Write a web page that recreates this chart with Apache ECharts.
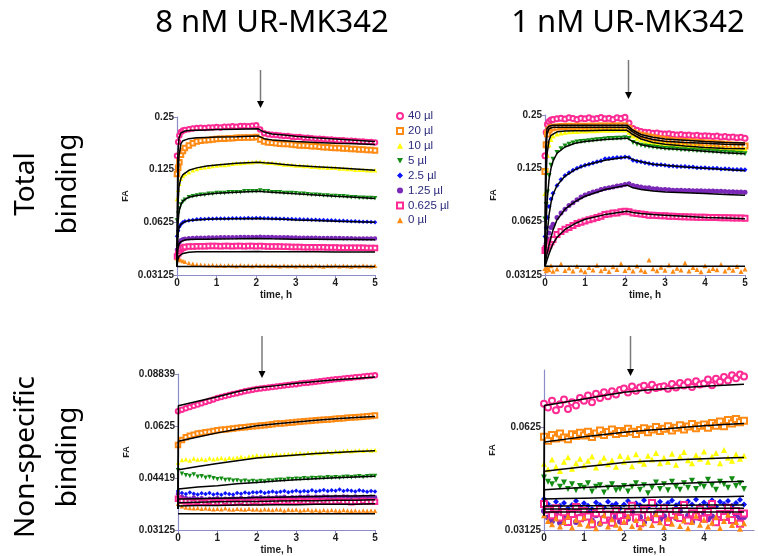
<!DOCTYPE html>
<html><head><meta charset="utf-8">
<script src="https://cdn.jsdelivr.net/npm/echarts/dist/echarts.min.js"></script>
<style>html,body{margin:0;padding:0;background:#fff}#c{width:758px;height:556px}</style>
</head><body><div id="c"></div><script>
// ---------- data ----------
const doses = ['40 µl','20 µl','10 µl','5 µl','2.5 µl','1.25 µl','0.625 µl','0 µl'];
const titles = ['8 nM UR-MK342','1 nM UR-MK342'];
const rowLabels = ['Total\nbinding','Non-specific\nbinding'];
const xTicks = [0,1,2,3,4,5];
const xTicksBR = [0,1,2,3,4];
const yTicksTop = [0.03125,0.0625,0.125,0.25];
const yTicksBL = [0.03125,0.04419,0.0625,0.08839];
const yTicksBR = [0.03125,0.0625];

const tTop = [0,0.03,0.06,0.1,0.15,0.2,
 0.3,0.4,0.5,0.6,0.7,0.8,0.9,1.0,1.1,1.2,
 1.3,1.4,1.5,1.6,1.7,1.8,1.9,2.0,2.1,2.2,
 2.3,2.4,2.5,2.6,2.7,2.8,2.9,3.0,3.1,3.2,
 3.3,3.4,3.5,3.6,3.7,3.8,3.9,4.0,4.1,4.2,
 4.3,4.4,4.5,4.6,4.7,4.8,4.9,5.0];
const tBot = [0,0.1,0.2,0.3,0.4,0.5,0.6,0.7,0.8,0.9,
 1.0,1.1,1.2,1.3,1.4,1.5,1.6,1.7,1.8,1.9,
 2.0,2.1,2.2,2.3,2.4,2.5,2.6,2.7,2.8,2.9,
 3.0,3.1,3.2,3.3,3.4,3.5,3.6,3.7,3.8,3.9,
 4.0,4.1,4.2,4.3,4.4,4.5,4.6,4.7,4.8,4.9,5.0];
const tFitTop = [0,0.02,0.05,0.1,0.15,0.2,0.3,0.5,0.75,1,1.5,2.05,2.1,2.2,2.4,2.7,3,3.5,4,4.5,5];
const tFitBot = [0,0.01,0.5,1,1.5,2,2.5,3,3.5,4,4.5,5];

// top-left: 8 nM total binding
const tl40 = [0.150,0.180,0.196,0.205,0.209,0.211,
 0.213,0.215,0.216,0.217,0.216,0.218,0.218,0.219,0.218,0.220,
 0.220,0.221,0.220,0.222,0.222,0.221,0.223,0.224,0.212,0.202,
 0.199,0.198,0.197,0.196,0.195,0.195,0.193,0.192,0.192,0.190,
 0.190,0.189,0.188,0.188,0.187,0.186,0.186,0.185,0.184,0.184,
 0.183,0.183,0.182,0.181,0.181,0.180,0.180,0.179];
const tl20 = [0.118,0.128,0.138,0.152,0.160,0.166,
 0.172,0.177,0.181,0.183,0.184,0.185,0.186,0.187,0.188,0.188,
 0.189,0.189,0.190,0.190,0.191,0.191,0.191,0.192,0.186,0.181,
 0.179,0.178,0.177,0.176,0.175,0.175,0.174,0.173,0.172,0.172,
 0.171,0.170,0.170,0.169,0.168,0.168,0.167,0.166,0.166,0.165,
 0.165,0.164,0.164,0.163,0.163,0.162,0.162,0.161];
const tl10 = [0.085,0.096,0.104,0.111,0.115,0.118,
 0.121,0.124,0.126,0.128,0.129,0.130,0.131,0.132,0.133,0.133,
 0.134,0.135,0.136,0.136,0.137,0.138,0.138,0.139,0.139,0.138,
 0.137,0.137,0.136,0.135,0.134,0.134,0.133,0.132,0.132,0.131,
 0.131,0.130,0.130,0.129,0.129,0.128,0.128,0.128,0.127,0.127,
 0.126,0.126,0.125,0.125,0.125,0.124,0.124,0.124];
const tl5 = [0.064,0.070,0.075,0.079,0.082,0.084,
 0.087,0.088,0.089,0.090,0.090,0.091,0.091,0.092,0.092,0.092,
 0.093,0.093,0.093,0.093,0.094,0.094,0.094,0.094,0.095,0.094,
 0.094,0.093,0.093,0.093,0.092,0.092,0.092,0.0915,0.091,0.091,
 0.0905,0.090,0.090,0.0895,0.089,0.089,0.0885,0.0885,0.088,0.088,
 0.0875,0.087,0.087,0.0865,0.0865,0.086,0.086,0.0858];
const tl2_5 = [0.052,0.056,0.059,0.061,0.0625,0.0633,
 0.0640,0.0645,0.0650,0.0652,0.0654,0.0655,0.0656,0.0657,0.0657,0.0658,
 0.0658,0.0659,0.0659,0.0660,0.0660,0.0661,0.0660,0.0661,0.0662,0.0660,
 0.0659,0.0658,0.0657,0.0656,0.0655,0.0654,0.0652,0.0651,0.0650,0.0649,
 0.0648,0.0647,0.0646,0.0645,0.0644,0.0643,0.0642,0.0640,0.0639,0.0638,
 0.0637,0.0635,0.0634,0.0632,0.0630,0.0629,0.0627,0.0625];
const tl1_25 = [0.0436,0.0462,0.0478,0.0493,0.0500,0.0504,
 0.0507,0.0509,0.0510,0.0511,0.0511,0.0512,0.0512,0.0512,0.0513,0.0513,
 0.0514,0.0514,0.0514,0.0515,0.0515,0.0516,0.0516,0.0516,0.0517,0.0516,
 0.0515,0.0515,0.0514,0.0514,0.0513,0.0513,0.0512,0.0512,0.0511,0.0511,
 0.0510,0.0510,0.0510,0.0509,0.0509,0.0509,0.0508,0.0508,0.0508,0.0507,
 0.0507,0.0507,0.0506,0.0506,0.0506,0.0505,0.0505,0.0505];
const tl0_625 = [0.0398,0.0415,0.0428,0.0440,0.0447,0.0452,
 0.0454,0.0455,0.0456,0.0456,0.0456,0.0457,0.0457,0.0457,0.0456,0.0457,
 0.0457,0.0456,0.0457,0.0457,0.0456,0.0457,0.0457,0.0456,0.0457,0.0456,
 0.0455,0.0455,0.0454,0.0454,0.0453,0.0453,0.0452,0.0452,0.0452,0.0451,
 0.0451,0.0451,0.0450,0.0450,0.0450,0.0449,0.0449,0.0449,0.0448,0.0448,
 0.0448,0.0448,0.0447,0.0447,0.0447,0.0446,0.0446,0.0446];
const tl0 = [0.0389,0.0386,0.0383,0.0380,0.0376,0.0372,
 0.0366,0.0362,0.0359,0.0358,0.0356,0.0355,0.0356,0.0354,0.0355,0.0353,
 0.0355,0.0354,0.0352,0.0355,0.0353,0.0354,0.0352,0.0355,0.0353,0.0354,
 0.0352,0.0354,0.0353,0.0351,0.0354,0.0352,0.0353,0.0351,0.0354,0.0352,
 0.0353,0.0351,0.0354,0.0352,0.0350,0.0353,0.0352,0.0354,0.0351,0.0353,
 0.0352,0.0350,0.0353,0.0351,0.0354,0.0352,0.0351,0.0353];
const tlFit40 = [0.035,0.150,0.190,0.203,0.207,0.208,0.209,0.210,0.211,0.212,0.213,0.214,0.213,0.205,0.200,0.197,0.194,0.190,0.187,0.184,0.181];
const tlFit20 = [0.035,0.100,0.150,0.176,0.183,0.186,0.188,0.190,0.191,0.192,0.193,0.195,0.194,0.188,0.185,0.183,0.181,0.179,0.177,0.176,0.174];
const tlFit10 = [0.035,0.075,0.100,0.112,0.117,0.120,0.124,0.128,0.131,0.133,0.136,0.138,0.138,0.137,0.136,0.134,0.132,0.130,0.128,0.126,0.124];
const tlFit5 = [0.035,0.060,0.072,0.079,0.083,0.085,0.087,0.089,0.0905,0.0915,0.093,0.094,0.094,0.0935,0.093,0.092,0.091,0.0895,0.088,0.087,0.0855];
const tlFit2_5 = [0.035,0.052,0.058,0.061,0.0625,0.063,0.064,0.0645,0.065,0.0652,0.0655,0.0658,0.0658,0.0655,0.0653,0.065,0.0645,0.064,0.0635,0.063,0.0625];
const tlFit1_25 = [0.035,0.044,0.047,0.0485,0.049,0.0495,0.0498,0.050,0.0501,0.0502,0.0503,0.0505,0.0505,0.0504,0.0503,0.0502,0.0501,0.050,0.0499,0.0498,0.0497];
const tlFit0_625 = [0.035,0.038,0.040,0.041,0.0415,0.042,0.0422,0.0424,0.0424,0.0424,0.0425,0.0426,0.0426,0.0425,0.0425,0.0424,0.0424,0.0424,0.0423,0.0423,0.0423];
const tlFit0 = [0.0349,0.0349,0.0349,0.0349,0.0349,0.0349,0.0349,0.0349,0.0349,0.0349,0.0349,0.0349,0.0349,0.0349,0.0349,0.0349,0.0349,0.0349,0.0349,0.0349,0.0349];

// top-right: 1 nM total binding
const tr40 = [0.147,0.200,0.222,0.229,0.234,0.236,
 0.238,0.240,0.237,0.241,0.239,0.236,0.240,0.238,0.241,0.237,
 0.239,0.242,0.238,0.240,0.236,0.241,0.239,0.243,0.225,0.210,
 0.205,0.202,0.200,0.199,0.197,0.198,0.196,0.195,0.196,0.194,
 0.193,0.194,0.192,0.193,0.191,0.192,0.190,0.191,0.190,0.189,
 0.190,0.188,0.189,0.187,0.188,0.186,0.187,0.185];
const tr20 = [0.120,0.170,0.195,0.206,0.211,0.213,
 0.214,0.215,0.215,0.216,0.215,0.216,0.216,0.215,0.216,0.216,
 0.216,0.217,0.216,0.217,0.216,0.217,0.217,0.217,0.210,0.200,
 0.195,0.192,0.190,0.188,0.186,0.184,0.183,0.181,0.180,0.179,
 0.178,0.178,0.177,0.176,0.176,0.175,0.175,0.174,0.173,0.173,
 0.172,0.171,0.171,0.170,0.169,0.169,0.168,0.167];
const tr10 = [0.090,0.125,0.148,0.170,0.182,0.190,
 0.195,0.198,0.200,0.201,0.202,0.202,0.203,0.203,0.204,0.204,
 0.204,0.205,0.205,0.205,0.205,0.206,0.206,0.206,0.200,0.190,
 0.185,0.181,0.178,0.177,0.175,0.174,0.173,0.172,0.171,0.170,
 0.169,0.169,0.168,0.167,0.167,0.166,0.165,0.165,0.164,0.164,
 0.163,0.163,0.162,0.162,0.162,0.161,0.161,0.161];
const tr5 = [0.0647,0.078,0.092,0.114,0.130,0.1405,
 0.1535,0.161,0.167,0.171,0.174,0.176,0.177,0.178,0.179,0.180,
 0.181,0.182,0.183,0.184,0.184,0.185,0.185,0.186,0.184,0.175,
 0.171,0.169,0.167,0.166,0.165,0.164,0.163,0.162,0.161,0.161,
 0.160,0.159,0.159,0.158,0.158,0.157,0.157,0.156,0.156,0.155,
 0.155,0.154,0.154,0.153,0.153,0.152,0.152,0.151];
const tr2_5 = [0.0515,0.058,0.066,0.076,0.084,0.0903,
 0.100,0.108,0.1138,0.118,0.122,0.125,0.128,0.130,0.132,0.134,
 0.136,0.138,0.1415,0.142,0.143,0.1437,0.144,0.1449,0.144,0.139,
 0.137,0.136,0.1346,0.133,0.132,0.131,0.131,0.130,0.129,0.129,
 0.128,0.128,0.128,0.127,0.127,0.126,0.126,0.126,0.125,0.125,
 0.125,0.124,0.1245,0.124,0.123,0.123,0.123,0.1229];
const tr1_25 = [0.045,0.047,0.050,0.054,0.058,0.0605,
 0.066,0.070,0.0735,0.077,0.080,0.083,0.086,0.0883,0.090,0.092,
 0.093,0.095,0.0961,0.097,0.098,0.0995,0.100,0.1012,0.1023,0.100,
 0.099,0.098,0.0972,0.097,0.096,0.096,0.095,0.0948,0.0945,0.094,
 0.094,0.094,0.0938,0.0936,0.0935,0.0934,0.0933,0.0932,0.0931,0.093,
 0.0928,0.0927,0.0925,0.0923,0.0922,0.092,0.0918,0.0917];
const tr0_625 = [0.043,0.044,0.045,0.0462,0.048,0.0495,
 0.0529,0.055,0.0566,0.058,0.0595,0.061,0.062,0.063,0.064,0.065,
 0.066,0.067,0.0686,0.069,0.070,0.070,0.071,0.0715,0.0712,0.070,
 0.0695,0.069,0.0686,0.068,0.068,0.0678,0.0676,0.0674,0.067,0.067,
 0.0668,0.0667,0.0666,0.0665,0.0664,0.0663,0.0662,0.0661,0.066,0.066,
 0.0659,0.0658,0.0657,0.0657,0.0656,0.0655,0.0655,0.0654];
const tr0 = [0.0340,0.0330,0.0345,0.0335,0.0352,0.0328,
 0.0338,0.0360,0.0331,0.0342,0.0329,0.0350,0.0334,0.0326,0.0345,0.0333,
 0.0355,0.0330,0.0340,0.0327,0.0348,0.0336,0.0362,0.0331,0.0343,0.0329,
 0.0351,0.0334,0.0327,0.0380,0.0339,0.0330,0.0346,0.0332,0.0356,0.0328,
 0.0341,0.0333,0.0365,0.0329,0.0344,0.0336,0.0326,0.0352,0.0331,0.0340,
 0.0335,0.0358,0.0329,0.0343,0.0332,0.0349,0.0327,0.0338];
const trFit40 = [0.035,0.170,0.210,0.216,0.218,0.219,0.219,0.219,0.219,0.219,0.219,0.219,0.218,0.205,0.194,0.187,0.183,0.180,0.177,0.175,0.174];
const trFit20 = [0.035,0.140,0.195,0.209,0.212,0.213,0.213,0.213,0.213,0.213,0.213,0.213,0.212,0.200,0.189,0.182,0.178,0.175,0.173,0.171,0.170];
const trFit10 = [0.035,0.100,0.150,0.180,0.192,0.197,0.201,0.203,0.204,0.204,0.205,0.205,0.204,0.194,0.183,0.175,0.171,0.167,0.164,0.162,0.161];
const trFit5 = [0.035,0.055,0.080,0.108,0.125,0.137,0.152,0.165,0.173,0.177,0.182,0.185,0.184,0.177,0.170,0.165,0.162,0.159,0.156,0.153,0.151];
const trFit2_5 = [0.035,0.043,0.052,0.068,0.080,0.089,0.100,0.113,0.123,0.130,0.139,0.145,0.144,0.140,0.136,0.132,0.130,0.127,0.125,0.123,0.121];
const trFit1_25 = [0.035,0.038,0.041,0.046,0.051,0.056,0.064,0.0735,0.081,0.087,0.095,0.1005,0.100,0.097,0.095,0.093,0.092,0.091,0.090,0.089,0.088];
const trFit0_625 = [0.035,0.036,0.038,0.041,0.044,0.047,0.051,0.0565,0.061,0.0645,0.0685,0.0715,0.0714,0.0705,0.0695,0.0685,0.068,0.067,0.066,0.0655,0.065];
const trFit0 = [0.035,0.035,0.035,0.035,0.035,0.035,0.035,0.035,0.035,0.035,0.035,0.035,0.035,0.035,0.035,0.035,0.035,0.035,0.035,0.035,0.035];

// bottom-left: 8 nM non-specific binding
const bl40 = [0.0690,0.0697,0.0703,0.0709,0.0715,0.0721,0.0727,0.0734,0.0740,0.0746,
 0.0753,0.0758,0.0763,0.0768,0.0773,0.0778,0.0783,0.0788,0.0792,0.0796,
 0.0800,0.0802,0.0805,0.0808,0.0810,0.0813,0.0816,0.0819,0.0821,0.0824,
 0.0826,0.0829,0.0832,0.0834,0.0837,0.0840,0.0842,0.0845,0.0848,0.0850,
 0.0853,0.0855,0.0858,0.0860,0.0862,0.0865,0.0867,0.0870,0.0872,0.0874,0.0876];
const bl20 = [0.0551,0.0569,0.0580,0.0586,0.0590,0.0595,0.0597,0.0600,0.0602,0.0605,
 0.0608,0.0610,0.0611,0.0613,0.0615,0.0617,0.0619,0.0620,0.0622,0.0624,
 0.0625,0.0627,0.0628,0.0630,0.0632,0.0635,0.0636,0.0637,0.0639,0.0640,
 0.0642,0.0643,0.0645,0.0646,0.0647,0.0649,0.0650,0.0652,0.0653,0.0654,
 0.0656,0.0657,0.0658,0.0660,0.0661,0.0663,0.0664,0.0665,0.0667,0.0668,0.0670];
const bl10 = [0.0490,0.0498,0.0501,0.0497,0.0503,0.0500,0.0502,0.0499,0.0504,0.0501,
 0.0503,0.0505,0.0502,0.0506,0.0504,0.0507,0.0509,0.0506,0.0510,0.0512,
 0.0514,0.0511,0.0515,0.0513,0.0516,0.0518,0.0515,0.0517,0.0519,0.0518,
 0.0520,0.0522,0.0519,0.0523,0.0521,0.0524,0.0522,0.0525,0.0527,0.0524,
 0.0528,0.0526,0.0529,0.0531,0.0528,0.0530,0.0532,0.0530,0.0533,0.0531,0.0533];
const bl5 = [0.0465,0.0455,0.0450,0.0448,0.0452,0.0446,0.0447,0.0443,0.0445,0.0441,
 0.0438,0.0440,0.0436,0.0437,0.0434,0.0435,0.0432,0.0434,0.0431,0.0433,
 0.0431,0.0433,0.0432,0.0435,0.0434,0.0436,0.0437,0.0436,0.0439,0.0438,
 0.0440,0.0439,0.0441,0.0440,0.0442,0.0441,0.0443,0.0442,0.0444,0.0443,
 0.0444,0.0443,0.0445,0.0446,0.0444,0.0446,0.0447,0.0445,0.0447,0.0448,0.0448];
const bl2_5 = [0.0405,0.0400,0.0397,0.0401,0.0398,0.0396,0.0399,0.0397,0.0400,0.0396,
 0.0398,0.0395,0.0399,0.0397,0.0396,0.0400,0.0398,0.0401,0.0399,0.0402,
 0.0401,0.0403,0.0400,0.0402,0.0404,0.0401,0.0403,0.0405,0.0402,0.0404,
 0.0406,0.0403,0.0405,0.0404,0.0407,0.0404,0.0406,0.0408,0.0405,0.0407,
 0.0406,0.0409,0.0405,0.0407,0.0406,0.0404,0.0407,0.0405,0.0403,0.0405,0.0404];
const bl1_25 = [0.0398,0.0390,0.0387,0.0385,0.0388,0.0384,0.0386,0.0383,0.0385,0.0384,
 0.0386,0.0383,0.0385,0.0384,0.0386,0.0385,0.0387,0.0384,0.0386,0.0388,
 0.0387,0.0389,0.0386,0.0388,0.0387,0.0389,0.0388,0.0390,0.0387,0.0389,
 0.0388,0.0390,0.0389,0.0391,0.0388,0.0390,0.0389,0.0391,0.0390,0.0388,
 0.0390,0.0389,0.0391,0.0390,0.0388,0.0391,0.0389,0.0390,0.0388,0.0390,0.0389];
const bl0_625 = [0.0385,0.0380,0.0378,0.0377,0.0376,0.0377,0.0375,0.0376,0.0377,0.0375,
 0.0376,0.0375,0.0377,0.0376,0.0375,0.0376,0.0377,0.0375,0.0376,0.0377,
 0.0378,0.0376,0.0377,0.0378,0.0377,0.0379,0.0377,0.0378,0.0379,0.0378,
 0.0377,0.0379,0.0378,0.0377,0.0379,0.0378,0.0377,0.0379,0.0378,0.0377,
 0.0378,0.0379,0.0377,0.0378,0.0376,0.0378,0.0377,0.0379,0.0377,0.0378,0.0377];
const bl0 = [0.0372,0.0366,0.0363,0.0362,0.0361,0.0362,0.0360,0.0361,0.0360,0.0359,
 0.0360,0.0359,0.0361,0.0359,0.0358,0.0360,0.0359,0.0358,0.0360,0.0358,
 0.0359,0.0357,0.0359,0.0358,0.0357,0.0359,0.0358,0.0356,0.0358,0.0357,
 0.0358,0.0356,0.0357,0.0358,0.0356,0.0357,0.0355,0.0357,0.0356,0.0357,
 0.0356,0.0355,0.0357,0.0356,0.0355,0.0356,0.0354,0.0356,0.0355,0.0356,0.0355];
const blFit40 = [0.036,0.0715,0.0737,0.0760,0.0785,0.0806,0.0818,0.0831,0.0841,0.0850,0.0858,0.0866];
const blFit20 = [0.036,0.0565,0.0581,0.0597,0.0612,0.0626,0.0634,0.0642,0.0649,0.0656,0.0661,0.0666];
const blFit10 = [0.036,0.0467,0.0477,0.0487,0.0496,0.0505,0.0510,0.0515,0.0520,0.0524,0.0527,0.0530];
const blFit5 = [0.036,0.0411,0.0416,0.0420,0.0425,0.0429,0.0433,0.0437,0.0440,0.0443,0.0445,0.0447];
const blFit2_5 = [0.036,0.0384,0.0385,0.0386,0.0387,0.0388,0.0389,0.0390,0.0391,0.0392,0.0392,0.0393];
const blFit1_25 = [0.036,0.0375,0.0376,0.0377,0.0378,0.0378,0.0379,0.0380,0.0380,0.0381,0.0381,0.0382];
const blFit0_625 = [0.036,0.0367,0.0368,0.0368,0.0369,0.0369,0.0370,0.0370,0.0371,0.0371,0.0371,0.0372];
const blFit0 = [0.0348,0.0348,0.0348,0.0348,0.0348,0.0348,0.0348,0.0348,0.0348,0.0348,0.0348,0.0348];

// bottom-right: 1 nM non-specific binding
const br40 = [0.0731,0.0712,0.0745,0.0700,0.0728,0.0752,0.0705,0.0738,0.0722,0.0760,
 0.0745,0.0772,0.0738,0.0781,0.0760,0.0790,0.0768,0.0795,0.0778,0.0802,
 0.0810,0.0788,0.0820,0.0798,0.0815,0.0825,0.0802,0.0830,0.0812,0.0818,
 0.0822,0.0808,0.0835,0.0815,0.0840,0.0826,0.0845,0.0818,0.0850,0.0832,
 0.0838,0.0860,0.0828,0.0865,0.0848,0.0875,0.0855,0.0885,0.0868,0.0890,0.0878];
const br20 = [0.0585,0.0570,0.0592,0.0578,0.0598,0.0582,0.0575,0.0595,0.0588,0.0601,
 0.0590,0.0605,0.0584,0.0598,0.0610,0.0592,0.0604,0.0615,0.0596,0.0608,
 0.0600,0.0618,0.0605,0.0596,0.0612,0.0620,0.0603,0.0615,0.0625,0.0608,
 0.0618,0.0628,0.0610,0.0622,0.0632,0.0615,0.0627,0.0638,0.0620,0.0630,
 0.0635,0.0622,0.0642,0.0630,0.0648,0.0628,0.0655,0.0640,0.0660,0.0645,0.0652];
const br10 = [0.0488,0.0470,0.0502,0.0478,0.0465,0.0495,0.0510,0.0472,0.0490,0.0505,
 0.0482,0.0498,0.0512,0.0476,0.0493,0.0508,0.0486,0.0500,0.0478,0.0515,
 0.0495,0.0510,0.0480,0.0520,0.0498,0.0488,0.0515,0.0502,0.0525,0.0490,
 0.0508,0.0495,0.0522,0.0485,0.0512,0.0528,0.0500,0.0490,0.0518,0.0505,
 0.0530,0.0495,0.0512,0.0525,0.0490,0.0535,0.0508,0.0498,0.0520,0.0505,0.0515];
const br5 = [0.0445,0.0432,0.0425,0.0438,0.0418,0.0430,0.0412,0.0425,0.0408,0.0420,
 0.0415,0.0428,0.0405,0.0418,0.0422,0.0402,0.0415,0.0425,0.0408,0.0412,
 0.0420,0.0405,0.0418,0.0428,0.0410,0.0422,0.0400,0.0415,0.0430,0.0412,
 0.0425,0.0408,0.0432,0.0418,0.0410,0.0428,0.0415,0.0435,0.0412,0.0425,
 0.0418,0.0438,0.0422,0.0410,0.0432,0.0425,0.0415,0.0440,0.0420,0.0428,0.0412];
const br2_5 = [0.0385,0.0372,0.0365,0.0378,0.0368,0.0375,0.0362,0.0370,0.0380,0.0366,
 0.0374,0.0368,0.0360,0.0376,0.0370,0.0364,0.0378,0.0369,0.0373,0.0362,
 0.0371,0.0380,0.0366,0.0374,0.0369,0.0382,0.0365,0.0376,0.0370,0.0378,
 0.0367,0.0375,0.0381,0.0369,0.0374,0.0366,0.0379,0.0371,0.0384,0.0368,
 0.0376,0.0370,0.0382,0.0366,0.0378,0.0372,0.0380,0.0368,0.0375,0.0383,0.0371];
const br1_25 = [0.0355,0.0340,0.0332,0.0348,0.0328,0.0345,0.0336,0.0350,0.0330,0.0342,
 0.0338,0.0352,0.0333,0.0345,0.0326,0.0340,0.0348,0.0335,0.0343,0.0331,
 0.0346,0.0337,0.0352,0.0334,0.0341,0.0329,0.0345,0.0338,0.0350,0.0336,
 0.0343,0.0332,0.0348,0.0339,0.0355,0.0335,0.0344,0.0330,0.0347,0.0338,
 0.0351,0.0336,0.0342,0.0329,0.0346,0.0340,0.0353,0.0334,0.0345,0.0338,0.0341];
const br0_625 = [0.0372,0.0358,0.0345,0.0362,0.0340,0.0352,0.0330,0.0348,0.0365,0.0338,
 0.0355,0.0342,0.0325,0.0350,0.0360,0.0335,0.0347,0.0328,0.0356,0.0344,
 0.0332,0.0352,0.0368,0.0340,0.0327,0.0358,0.0345,0.0375,0.0336,0.0350,
 0.0362,0.0330,0.0346,0.0355,0.0339,0.0370,0.0333,0.0350,0.0342,0.0360,
 0.0337,0.0353,0.0372,0.0329,0.0348,0.0341,0.0363,0.0334,0.0355,0.0326,0.0349];
const br0 = [0.0345,0.0332,0.0325,0.0338,0.0320,0.0330,0.0342,0.0318,0.0335,0.0326,
 0.0340,0.0322,0.0333,0.0316,0.0328,0.0345,0.0320,0.0336,0.0324,0.0317,
 0.0331,0.0343,0.0321,0.0334,0.0318,0.0327,0.0339,0.0323,0.0348,0.0329,
 0.0319,0.0337,0.0326,0.0342,0.0321,0.0333,0.0316,0.0330,0.0344,0.0324,
 0.0335,0.0320,0.0328,0.0341,0.0317,0.0332,0.0346,0.0323,0.0330,0.0315,0.0327];
const brFit40 = [0.0345,0.0722,0.0738,0.0755,0.0772,0.0790,0.0800,0.0808,0.0815,0.0822,0.0828,0.0833];
const brFit20 = [0.0345,0.0565,0.0575,0.0585,0.0594,0.0603,0.0610,0.0617,0.0624,0.0630,0.0635,0.0640];
const brFit10 = [0.0345,0.0464,0.0471,0.0478,0.0485,0.0492,0.0496,0.0499,0.0502,0.0505,0.0507,0.0509];
const brFit5 = [0.0345,0.0410,0.0413,0.0416,0.0419,0.0421,0.0424,0.0426,0.0428,0.0430,0.0432,0.0433];
const brFit2_5 = [0.0345,0.0385,0.0386,0.0387,0.0388,0.0388,0.0389,0.0390,0.0390,0.0391,0.0391,0.0392];
const brFit1_25 = [0.0345,0.0367,0.0367,0.0368,0.0368,0.0368,0.0369,0.0369,0.0369,0.0370,0.0370,0.0370];
const brFit0_625 = [0.0345,0.0360,0.0360,0.0360,0.0361,0.0361,0.0361,0.0361,0.0362,0.0362,0.0362,0.0362];
const brFit0 = [0.0353,0.0353,0.0353,0.0353,0.0353,0.0353,0.0353,0.0353,0.0353,0.0353,0.0353,0.0353];

// ---------- styles ----------
const PINK='#ff2a93', ORANGE='#ff8a14', YELLOW='#ffff00', GREEN='#138c13', BLUE='#0a14ff', PURPLE='#7a28b8';
const markers = [
 {sym:'emptyCircle', color:PINK, hollow:true},
 {sym:'emptyRect', color:ORANGE, hollow:true},
 {sym:'triangle', color:YELLOW},
 {sym:'triangle', color:GREEN, rot:180, legendIcon:'path://M0,0L10,0L5,9Z'},
 {sym:'diamond', color:BLUE},
 {sym:'circle', color:PURPLE},
 {sym:'emptyRect', color:PINK, hollow:true},
 {sym:'triangle', color:ORANGE}
];
const AX='#8c8cc8', LBL='#1e1e1e', FONT='"Liberation Sans", Arial, sans-serif';

const panels = [
 {t:tTop, vals:[tl40,tl20,tl10,tl5,tl2_5,tl1_25,tl0_625,tl0], ft:tFitTop,
  fits:[tlFit40,tlFit20,tlFit10,tlFit5,tlFit2_5,tlFit1_25,tlFit0_625,tlFit0], size:4.5,
  grid:{left:177,top:117,width:198,height:158}, xMax:5, xT:xTicks, yMin:yTicksTop[0], yMax:yTicksTop[3], yT:yTicksTop, yI:1},
 {t:tTop, vals:[tr40,tr20,tr10,tr5,tr2_5,tr1_25,tr0_625,tr0], ft:tFitTop,
  fits:[trFit40,trFit20,trFit10,trFit5,trFit2_5,trFit1_25,trFit0_625,trFit0], size:5,
  grid:{left:545,top:115,width:200,height:160}, xMax:5, xT:xTicks, yMin:yTicksTop[0], yMax:yTicksTop[3], yT:yTicksTop, yI:1},
 {t:tBot, vals:[bl40,bl20,bl10,bl5,bl2_5,bl1_25,bl0_625,bl0], ft:tFitBot,
  fits:[blFit40,blFit20,blFit10,blFit5,blFit2_5,blFit1_25,blFit0_625,blFit0], size:4.5,
  grid:{left:178,top:374,width:197,height:157}, xMax:5, xT:xTicks, yMin:yTicksBL[0], yMax:yTicksBL[3], yT:yTicksBL, yI:0.5},
 {t:tBot, vals:[br40,br20,br10,br5,br2_5,br1_25,br0_625,br0], ft:tFitBot,
  fits:[brFit40,brFit20,brFit10,brFit5,brFit2_5,brFit1_25,brFit0_625,brFit0], size:6,
  grid:{left:544,top:370,width:210,height:160}, xMax:5.25, xT:xTicksBR, yMin:yTicksBR[0], yMax:0.0917, yT:yTicksBR, yI:1}
];

const L2 = v => Math.log2(v);
const fmtY = v => String(parseFloat(Math.pow(2, v).toPrecision(4)));

const grids=[], xAxes=[], yAxes=[], series=[];
panels.forEach((p, gi) => {
  grids.push(p.grid);
  xAxes.push({type:'value', gridIndex:gi, min:0, max:p.xMax, interval:1,
    name:'time, h', nameLocation:'middle', nameGap:15,
    nameTextStyle:{fontFamily:FONT, fontWeight:'bold', fontSize:10, color:LBL},
    axisLine:{show:true, lineStyle:{color:AX, width:1.2}},
    axisTick:{show:true, length:3, lineStyle:{color:AX}, customValues:p.xT},
    axisLabel:{fontFamily:FONT, fontWeight:'bold', fontSize:10, color:LBL, margin:3, customValues:p.xT},
    splitLine:{show:false}});
  yAxes.push({type:'value', gridIndex:gi, min:L2(p.yMin), max:L2(p.yMax), interval:p.yI,
    name:'FA', nameLocation:'middle', nameGap:47,
    nameTextStyle:{fontFamily:FONT, fontWeight:'bold', fontSize:9, color:LBL},
    axisLine:{show:true, lineStyle:{color:AX, width:1.2}},
    axisTick:{show:true, length:3, lineStyle:{color:AX}, customValues:p.yT.map(L2)},
    axisLabel:{fontFamily:FONT, fontWeight:'bold', fontSize:10, color:LBL, margin:3,
      customValues:p.yT.map(L2), formatter:fmtY},
    splitLine:{show:false}});
  p.vals.forEach((vals, k) => {
    const m = markers[k];
    series.push({type:'scatter', name:doses[k], xAxisIndex:gi, yAxisIndex:gi,
      data: p.t.map((x, i) => [x, L2(vals[i])]),
      symbol:m.sym, symbolSize:p.size, symbolRotate:m.rot||0,
      itemStyle:{color:m.color, borderColor:m.color, borderWidth:m.hollow?1:0, opacity:1},
      silent:true, z:2});
  });
  p.fits.forEach((vals, k) => {
    series.push({type:'line', name:'fit', xAxisIndex:gi, yAxisIndex:gi,
      data: p.ft.map((x, i) => [x, L2(vals[i])]),
      showSymbol:false, symbol:'none', lineStyle:{color:'#000', width:1.5},
      silent:true, z:3});
  });
});

function arrow(x, y1, y2){
  return {type:'group', children:[
    {type:'line', shape:{x1:x, y1:y1, x2:x, y2:y2-6}, style:{stroke:'#7a7a7a', lineWidth:1.5}},
    {type:'polygon', shape:{points:[[x-3.5,y2-7],[x+3.5,y2-7],[x,y2]]}, style:{fill:'#000'}}
  ]};
}

const legendData = doses.map((d, k) => markers[k].legendIcon ? {name:d, icon:markers[k].legendIcon} : {name:d});

const chart = echarts.init(document.getElementById('c'), null, {renderer:'canvas'});
chart.setOption({
  animation:false,
  backgroundColor:'#fff',
  grid:grids, xAxis:xAxes, yAxis:yAxes, series:series,
  legend:{data:legendData, orient:'vertical', left:391, top:105, itemWidth:6, itemHeight:6, itemGap:2.9,
    selectedMode:false,
    textStyle:{fontFamily:FONT, fontSize:11.5, color:'#2a2a7c', lineHeight:11, padding:[0,0,0,0]}},
  graphic:[
    {type:'text', x:272, y:23, style:{text:titles[0], font:'31px "Noto Sans"', fill:'#000', align:'center', verticalAlign:'middle'}},
    {type:'text', x:628, y:23, style:{text:titles[1], font:'31px "Noto Sans"', fill:'#000', align:'center', verticalAlign:'middle'}},
    {type:'text', x:47, y:184, rotation:Math.PI/2, style:{text:rowLabels[0], font:'28px "Noto Sans"', fill:'#000', align:'center', verticalAlign:'middle', lineHeight:42}},
    {type:'text', x:47, y:457, rotation:Math.PI/2, style:{text:rowLabels[1], font:'28px "Noto Sans"', fill:'#000', align:'center', verticalAlign:'middle', lineHeight:42}},
    arrow(260.5, 70, 108),
    arrow(628.5, 60, 99),
    arrow(262, 336, 378),
    arrow(630.5, 336, 376)
  ]
});
</script></body></html>
